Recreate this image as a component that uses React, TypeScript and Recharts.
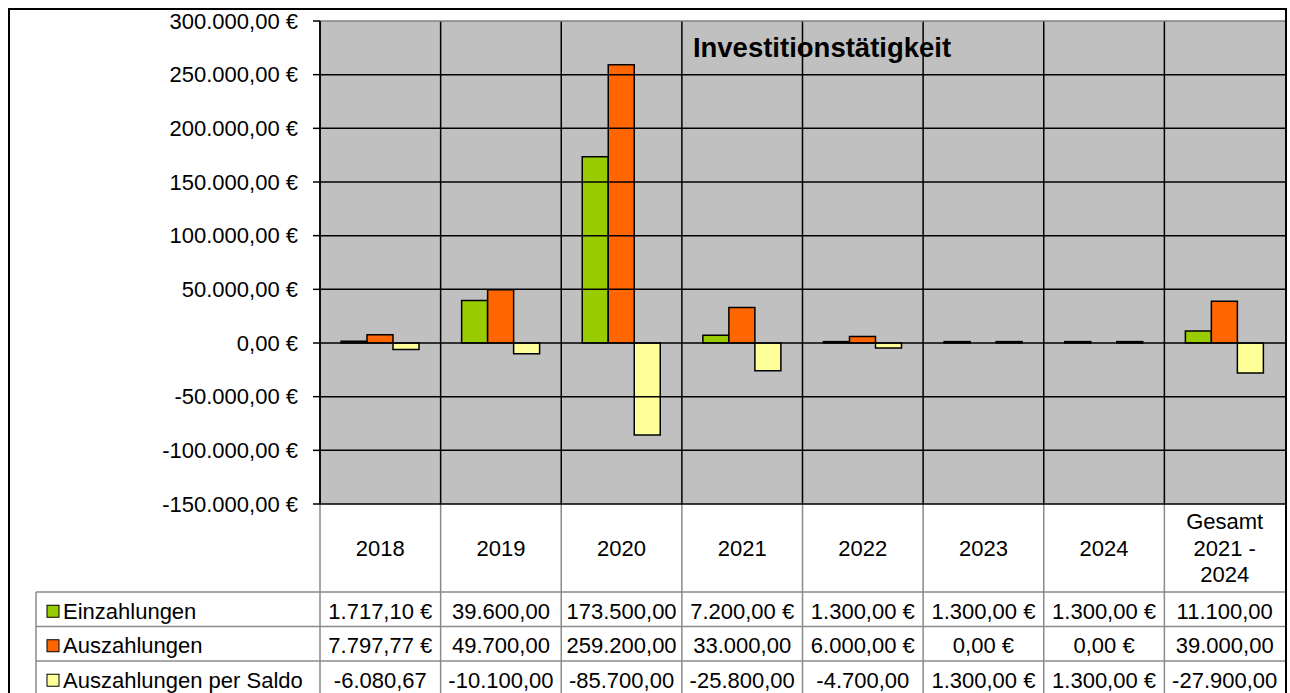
import React, { useLayoutEffect } from "react";
import {
  BarChart,
  Bar,
  XAxis,
  YAxis,
  CartesianGrid,
  ReferenceLine,
  Customized,
} from "recharts";

const CATEGORIES = ["2018", "2019", "2020", "2021", "2022", "2023", "2024", "Gesamt 2021 - 2024"];
const HEADER_LINES = [["2018"], ["2019"], ["2020"], ["2021"], ["2022"], ["2023"], ["2024"], ["Gesamt", "2021 -", "2024"]];

const EINZAHLUNGEN = [1717.1, 39600, 173500, 7200, 1300, 1300, 1300, 11100];
const AUSZAHLUNGEN = [7797.77, 49700, 259200, 33000, 6000, 0, 0, 39000];
const SALDO = [-6080.67, -10100, -85700, -25800, -4700, 1300, 1300, -27900];

// cell texts as shown in the table (Excel cuts them off)
const EIN_TEXT = ["1.717,10 €", "39.600,00", "173.500,00", "7.200,00 €", "1.300,00 €", "1.300,00 €", "1.300,00 €", "11.100,00"];
const AUS_TEXT = ["7.797,77 €", "49.700,00", "259.200,00", "33.000,00", "6.000,00 €", "0,00 €", "0,00 €", "39.000,00"];
const SALDO_TEXT = ["-6.080,67", "-10.100,00", "-85.700,00", "-25.800,00", "-4.700,00", "1.300,00 €", "1.300,00 €", "-27.900,00"];

const Y_TICKS = [-150000, -100000, -50000, 0, 50000, 100000, 150000, 200000, 250000, 300000];

const SERIES = [
  { key: "ein", name: "Einzahlungen", color: "#99CC00", texts: EIN_TEXT },
  { key: "aus", name: "Auszahlungen", color: "#FF6600", texts: AUS_TEXT },
  { key: "saldo", name: "Auszahlungen per Saldo", color: "#FFFF99", texts: SALDO_TEXT },
];

const data = CATEGORIES.map((cat, i) => ({
  cat,
  ein: EINZAHLUNGEN[i],
  aus: AUSZAHLUNGEN[i],
  saldo: SALDO[i],
}));

const FONT = "'Liberation Sans', Arial, sans-serif";
const W = 1275;
const H = 690;
const TOP = 11;
const Y_W = 310;
const X_H = 196;
const PLOT_BOTTOM = H - X_H;
const BAND = (W - Y_W) / CATEGORIES.length;
const HEADER_BOTTOM = 582;
const ROW_H = 34.5;
const TABLE_LINE = "#8a8a8a";

function fmtEuro(v: number) {
  const neg = v < 0;
  const s = Math.abs(v).toFixed(2);
  const [int, dec] = s.split(".");
  const grouped = int.replace(/\B(?=(\d{3})+(?!\d))/g, ".");
  return (neg ? "-" : "") + grouped + "," + dec + " €";
}

function ColumnTick(props: any) {
  const { x, index } = props;
  const lines = HEADER_LINES[index] || [];
  const headerMid = (PLOT_BOTTOM + HEADER_BOTTOM) / 2;
  const lh = 26.5;
  return (
    <g fontFamily={FONT} fontSize={22} fill="#000">
      {lines.map((l, k) => (
        <text
          key={k}
          x={x}
          y={headerMid + (k - (lines.length - 1) / 2) * lh}
          textAnchor="middle"
          dominantBaseline="central"
        >
          {l}
        </text>
      ))}
      {SERIES.map((s, r) => (
        <text
          key={s.key}
          x={x}
          y={HEADER_BOTTOM + r * ROW_H + ROW_H / 2 + 2}
          textAnchor="middle"
          dominantBaseline="central"
        >
          {s.texts[index]}
        </text>
      ))}
    </g>
  );
}

function TableFrame() {
  const xs = CATEGORIES.map((_, i) => Y_W + i * BAND);
  return (
    <g>
      <text
        x={812}
        y={47}
        textAnchor="middle"
        fontFamily={FONT}
        fontSize={27.5}
        fontWeight="bold"
        fill="#000"
      >
        Investitionstätigkeit
      </text>
      {[0, 1, 2, 3].map((r) => (
        <line
          key={r}
          x1={26}
          x2={W}
          y1={HEADER_BOTTOM + r * ROW_H}
          y2={HEADER_BOTTOM + r * ROW_H}
          stroke={TABLE_LINE}
          strokeWidth={1.5}
        />
      ))}
      <line x1={26} x2={26} y1={HEADER_BOTTOM} y2={H + 20} stroke={TABLE_LINE} strokeWidth={1.5} />
      {xs.map((x, i) => (
        <line key={i} x1={x} x2={x} y1={PLOT_BOTTOM} y2={H + 20} stroke={TABLE_LINE} strokeWidth={1.5} />
      ))}
      {SERIES.map((s, r) => {
        const cy = HEADER_BOTTOM + r * ROW_H + ROW_H / 2 + 2;
        return (
          <g key={s.key}>
            <rect x={37} y={cy - 6} width={12} height={12} fill={s.color} stroke="#000" strokeWidth={1} />
            <text x={53} y={cy} dominantBaseline="central" fontFamily={FONT} fontSize={22} fill="#000">
              {s.name}
            </text>
          </g>
        );
      })}
    </g>
  );
}

export default function App() {
  useLayoutEffect(() => {
    document.body.style.margin = "0";
  }, []);

  return (
    <div
      style={{
        position: "relative",
        width: 1290,
        height: 693,
        overflow: "hidden",
        background: "#fff",
      }}
    >
      <div
        style={{
          position: "absolute",
          left: 8,
          top: 8,
          width: 1279,
          height: 760,
          border: "2px solid #000",
          boxSizing: "border-box",
        }}
      />
      <div style={{ position: "absolute", left: 10, top: 10 }}>
        <BarChart
          width={W}
          height={H}
          data={data}
          margin={{ top: TOP, right: 0, bottom: 0, left: 0 }}
          barCategoryGap={21}
          barGap={0}
        >
          <CartesianGrid
            horizontal={false}
            fill="#C0C0C0"
            stroke="#000"
            strokeWidth={1.5}
            verticalCoordinatesGenerator={(p: any) => {
              const left = p?.offset?.left ?? Y_W;
              const width = p?.offset?.width ?? W - Y_W;
              return CATEGORIES.map((_, i) => left + (i * width) / CATEGORIES.length);
            }}
          />
          {Y_TICKS.map((v) => (
            <ReferenceLine
              key={v}
              y={v}
              stroke={v === Y_TICKS[Y_TICKS.length - 1] ? "#808080" : "#000"}
              strokeWidth={1.5}
            />
          ))}
          <XAxis
            dataKey="cat"
            height={X_H}
            interval={0}
            axisLine={false}
            tickLine={false}
            tick={<ColumnTick />}
          />
          <YAxis
            width={Y_W}
            domain={[-150000, 300000]}
            ticks={Y_TICKS}
            interval={0}
            tickFormatter={fmtEuro}
            tickSize={7}
            tickMargin={15}
            axisLine={{ stroke: "#000", strokeWidth: 1.5 }}
            tickLine={{ stroke: "#000", strokeWidth: 1.5 }}
            tick={{ fill: "#000", fontSize: 22, fontFamily: FONT }}
          />
          {SERIES.map((s) => (
            <Bar
              key={s.key}
              dataKey={s.key}
              name={s.name}
              fill={s.color}
              stroke="#000"
              strokeWidth={1.5}
              isAnimationActive={false}
            />
          ))}
          <Customized component={<TableFrame />} />
        </BarChart>
      </div>
    </div>
  );
}
